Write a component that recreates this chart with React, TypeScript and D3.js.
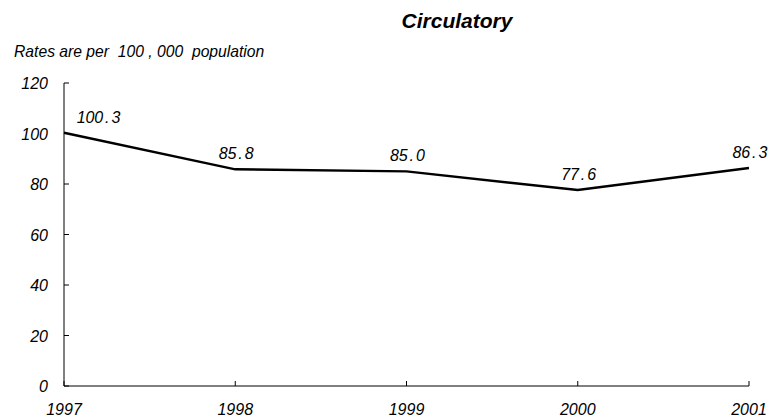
import React from "react";
import * as d3 from "d3";

const years = ["1997", "1998", "1999", "2000", "2001"];
const rates = [100.3, 85.8, 85.0, 77.6, 86.3];
const yTicks = [0, 20, 40, 60, 80, 100, 120];

const W = 770;
const H = 417;

export default function App() {
  const x = d3.scalePoint<string>().domain(years).range([64, 749]);
  const y = d3.scaleLinear().domain([0, 120]).range([386, 83]);
  const line = d3
    .line<number>()
    .x((_, i) => x(years[i]) as number)
    .y((d) => y(d));
  const axisFont = "'Liberation Sans', Arial, sans-serif";
  const labFs = 16;
  const adv = 0.54 * labFs;
  return (
    <svg
      width={W}
      height={H}
      style={{ position: "absolute", left: 0, top: 0, background: "#fff" }}
    >
      <text
        x={457}
        y={28}
        textAnchor="middle"
        fontFamily={axisFont}
        fontSize={21}
        fontWeight="bold"
        fontStyle="italic"
      >
        Circulatory
      </text>
      <text
        x={14}
        y={57}
        fontFamily={axisFont}
        fontSize={15.7}
        fontStyle="italic"
        style={{ whiteSpace: "pre" }}
      >
        {"Rates are per  100 , 000  population"}
      </text>
      {/* y axis */}
      <line x1={64} x2={64} y1={y(120)} y2={y(0)} stroke="#000" strokeWidth={1} />
      {yTicks.map((t) => (
        <g key={t}>
          <line x1={64} x2={69} y1={y(t)} y2={y(t)} stroke="#000" strokeWidth={1} />
          <text
            x={48}
            y={y(t) + 6}
            textAnchor="end"
            fontFamily={axisFont}
            fontSize={16}
            fontStyle="italic"
          >
            {t}
          </text>
        </g>
      ))}
      {/* x axis */}
      <line x1={64} x2={749} y1={y(0)} y2={y(0)} stroke="#000" strokeWidth={1} />
      {years.map((yr) => (
        <g key={yr}>
          <line
            x1={x(yr)}
            x2={x(yr)}
            y1={y(0)}
            y2={y(0) - 5}
            stroke="#000"
            strokeWidth={1}
          />
          <text
            x={x(yr) as number}
            y={415}
            textAnchor="middle"
            fontFamily={axisFont}
            fontSize={16}
            fontStyle="italic"
          >
            {yr}
          </text>
        </g>
      ))}
      <path d={line(rates) || ""} fill="none" stroke="#000" strokeWidth={2.5} />
      {rates.map((r, i) => {
        const px = x(years[i]) as number;
        const s = r.toFixed(1);
        const start = i === 0 ? px + 13 : px + 1 - (s.length * adv) / 2;
        return (
          <g key={i}>
            {s.split("").map((c, j) => (
              <text
                key={j}
                x={start + j * adv + adv / 2}
                y={y(r) - 10}
                textAnchor="middle"
                fontFamily={axisFont}
                fontSize={labFs}
                fontStyle="italic"
              >
                {c}
              </text>
            ))}
          </g>
        );
      })}
    </svg>
  );
}
